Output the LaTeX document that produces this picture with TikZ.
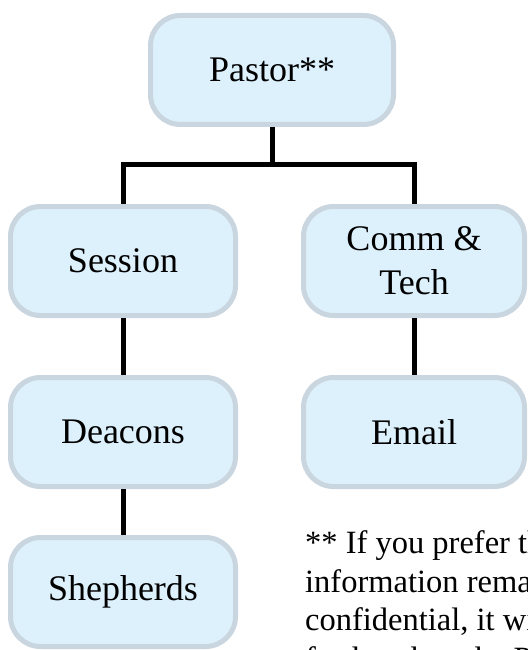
\documentclass[tikz,border=0pt]{standalone}
\usepackage{fontspec}
\setmainfont{Liberation Serif}
\definecolor{boxfill}{HTML}{DDF1FC}
\definecolor{boxline}{HTML}{C9D5DF}
\tikzset{
  orgbox/.style={draw=boxline, fill=boxfill, line width=5pt, rounded corners=30pt,
    minimum height=109pt, align=center, font=\fontsize{36}{44}\selectfont, inner sep=0pt},
  link/.style={draw=black, line width=5pt}
}
\begin{document}
\begin{tikzpicture}[x=1pt,y=-1pt]
\useasboundingbox (0,0) rectangle (527,650);
\clip (0,0) rectangle (527,650);
\node[orgbox, minimum width=243pt] (pastor) at (272,70) {Pastor**};
\node[orgbox, minimum width=225pt] (session) at (123,261) {Session};
\node[orgbox, minimum width=221pt] (comm) at (414,261) {Comm \&\\Tech};
\node[orgbox, minimum width=225pt] (deacons) at (123,432) {Deacons};
\node[orgbox, minimum width=221pt] (email) at (414,432) {Email};
\node[orgbox, minimum width=225pt] (shepherds) at (123,592) {Shepherds};
\coordinate (split) at (272,164);
\draw[link] (pastor.south) -- (split);
\draw[link] (session.north) -- (session.north |- split) -- (comm.north |- split) -- (comm.north);
\draw[link] (session.south) -- (deacons.north);
\draw[link] (comm.south) -- (email.north);
\draw[link] (deacons.south) -- (shepherds.north);
\node[anchor=base west, align=left, inner sep=0pt, font=\fontsize{32.5}{38.5}\selectfont] (note) at (305,669)
  {** If you prefer that this\\information remain\\confidential, it will not go\\further than the Pastor.};
\end{tikzpicture}
\end{document}
